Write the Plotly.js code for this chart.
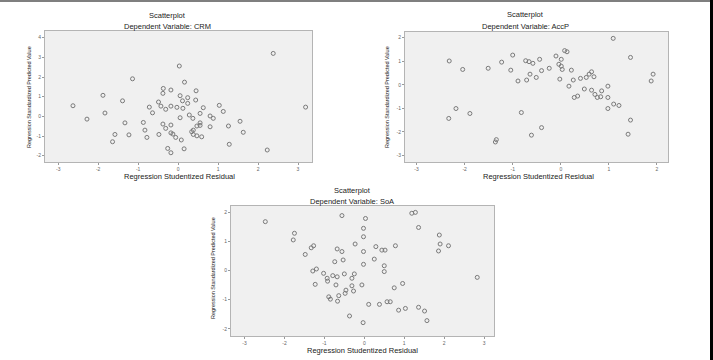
<!DOCTYPE html>
<html>
<head>
<meta charset="utf-8">
<script src="https://cdn.plot.ly/plotly-3.0.1.min.js"></script>
<style>
html,body{margin:0;padding:0;background:#fff;}
#chart{width:713px;height:360px;}
</style>
</head>
<body>
<div id="chart"></div>
<script>
// ---- Data ----
const crmResidual = [2.38,0.03,-1.14,0.16,-0.37,-0.18,0.45,-0.38,-1.88,0.05,0.24,0.44,-1.39,0.11,-0.49,0.24,-2.63,1.03,-0.72,-0.43,-0.18,-0.03,0.12,-0.31,0.63,1.13,-1.83,-0.64,3.19,0.55,0.28,0.80,0.88,0.37,0.05,-2.28,-0.87,-1.33,0.55,1.55,-0.38,-0.18,0.47,0.55,0.80,1.26,-0.31,-0.83,0.38,0.34,1.63,-1.58,-1.23,-0.48,-0.18,-0.13,0.38,0.47,0.59,-0.78,-0.06,0.08,-1.64,1.28,-0.26,0.15,2.23,-0.18];
const crmPredicted = [3.20,2.56,1.91,1.74,1.42,1.34,1.30,1.17,1.07,1.05,0.95,0.83,0.79,0.79,0.73,0.66,0.54,0.56,0.47,0.52,0.52,0.46,0.41,0.36,0.44,0.25,0.17,0.18,0.47,0.15,0.07,0.02,-0.10,-0.10,-0.07,-0.14,-0.31,-0.33,-0.33,-0.25,-0.39,-0.44,-0.49,-0.46,-0.53,-0.49,-0.61,-0.70,-0.70,-0.78,-0.81,-0.92,-0.94,-0.92,-0.84,-0.90,-0.92,-0.99,-1.04,-1.07,-1.07,-1.20,-1.29,-1.42,-1.63,-1.65,-1.71,-1.85];

const accResidual = [1.09,-2.32,-1.00,-1.23,-2.04,-1.51,-1.04,-0.73,-0.66,-0.58,-0.44,-0.10,0.08,0.13,0.01,-0.04,0.03,0.01,-0.24,-0.40,0.22,1.45,1.92,1.88,-0.64,-0.51,-0.89,-0.71,-0.02,0.26,0.41,0.53,0.64,0.59,0.69,0.17,0.49,0.64,0.85,0.98,0.71,0.76,0.83,0.98,0.28,0.35,1.10,1.21,0.98,-2.18,-2.33,-1.89,-0.82,1.45,-0.40,-0.61,1.40,-1.36,-1.34];
const accPredicted = [1.97,1.01,1.26,0.96,0.65,0.70,0.62,1.02,0.98,0.91,1.08,1.22,1.45,1.40,1.08,0.87,0.65,0.79,0.70,0.60,0.62,1.16,0.45,0.16,0.45,0.31,0.16,0.20,0.24,0.20,0.27,0.31,0.55,0.45,0.34,-0.06,-0.18,-0.23,-0.26,-0.06,-0.41,-0.54,-0.51,-0.54,-0.54,-0.48,-0.82,-0.88,-1.01,-1.01,-1.43,-1.22,-1.18,-1.50,-1.82,-2.14,-2.10,-2.43,-2.33];

const soaResidual = [-2.48,-0.56,0.03,1.19,1.28,-0.02,1.36,-1.75,-1.78,-0.02,1.88,1.90,2.11,1.86,-0.23,0.29,0.44,0.52,0.78,-1.27,-1.33,-0.68,-0.56,-1.48,-0.02,0.25,-0.53,-0.74,-0.02,0.50,0.50,-1.20,-1.29,-1.02,-0.79,-0.68,-0.50,-0.25,-0.31,-0.92,-0.93,-1.23,-0.71,-0.31,-0.06,0.96,0.75,-0.46,-0.27,-0.48,-0.89,-0.64,-0.67,-0.85,0.11,0.38,0.57,0.65,2.83,0.86,1.03,1.36,1.51,1.57,-0.37,-0.03];
const soaPredicted = [1.69,1.90,1.80,1.98,2.01,1.46,1.49,1.29,1.06,1.17,1.23,0.92,0.86,0.68,0.92,0.83,0.71,0.71,0.86,0.86,0.79,0.75,0.66,0.56,0.66,0.40,0.37,0.31,0.22,0.17,-0.03,0.06,-0.01,-0.09,-0.17,-0.21,-0.11,-0.11,-0.26,-0.36,-0.26,-0.47,-0.49,-0.52,-0.49,-0.44,-0.59,-0.67,-0.70,-0.78,-0.90,-0.86,-1.05,-0.98,-1.16,-1.16,-1.07,-1.07,-0.23,-1.36,-1.30,-1.26,-1.39,-1.72,-1.56,-1.79];

const crmXTicks = [-3,-2,-1,0,1,2,3];
const crmYTicks = [-2,-1,0,1,2,3,4];
const accXTicks = [-3,-2,-1,0,1,2];
const accYTicks = [-3,-2,-1,0,1,2];
const soaXTicks = [-3,-2,-1,0,1,2,3];
const soaYTicks = [-2,-1,0,1,2];

const chartTitle = "Scatterplot";
const depTitles = ["Dependent Variable: CRM","Dependent Variable: AccP","Dependent Variable: SoA"];
const xLabel = "Regression Studentized Residual";
const yLabel = "Regression Standardized Predicted Value";

// ---- Layout helpers (pixel -> paper) ----
const W = 713, H = 360;
const px = v => v / W;
const py = v => 1 - v / H;
const FONT = "Liberation Sans, Arial, sans-serif";

const markerStyle = {symbol:"circle-open", size:4, color:"#7a7a7a", line:{width:1,color:"#7a7a7a"}};

function trace(x, y, xa, ya){
  return {type:"scatter", mode:"markers", x:x, y:y, xaxis:xa, yaxis:ya,
          marker:markerStyle, hoverinfo:"none", showlegend:false, cliponaxis:false};
}

function axis(domain, range, ticks, anchor){
  return {domain:domain, range:range, anchor:anchor, tickvals:ticks, ticktext:ticks.map(String),
          showgrid:false, zeroline:false, showline:true, mirror:true, linecolor:"#b4b4b4", linewidth:1,
          ticks:"outside", ticklen:2, tickcolor:"#999", tickwidth:1, ticklabelstandoff:0,
          tickfont:{family:FONT, size:5, color:"#666"}, fixedrange:true};
}

const data = [
  trace(crmResidual, crmPredicted, "x", "y"),
  trace(accResidual, accPredicted, "x2", "y2"),
  trace(soaResidual, soaPredicted, "x3", "y3")
];

const ann = [];
function addTitles(cx, y1, y2, title2, xlx, xly, ylx, yly){
  ann.push({text:chartTitle, x:px(cx), y:py(y1), xref:"paper", yref:"paper", showarrow:false,
            font:{family:FONT, size:7.5, color:"#222"}, xanchor:"center", yanchor:"middle"});
  ann.push({text:title2, x:px(cx), y:py(y2), xref:"paper", yref:"paper", showarrow:false,
            font:{family:FONT, size:7.5, color:"#222"}, xanchor:"center", yanchor:"middle"});
  ann.push({text:xLabel, x:px(xlx), y:py(xly), xref:"paper", yref:"paper", showarrow:false,
            font:{family:FONT, size:7.5, color:"#222"}, xanchor:"center", yanchor:"middle"});
  ann.push({text:yLabel, x:px(ylx), y:py(yly), xref:"paper", yref:"paper", showarrow:false, textangle:-90,
            font:{family:FONT, size:5.5, color:"#222"}, xanchor:"center", yanchor:"middle"});
}
addTitles(167, 16, 27, depTitles[0], 179, 176, 29, 97);
addTitles(525, 15, 27, depTitles[1], 538, 176, 387, 97);
addTitles(352, 190, 201, depTitles[2], 363, 350, 213, 268);

const layout = {
  width:W, height:H,
  margin:{l:0,r:0,t:0,b:0},
  paper_bgcolor:"#ffffff",
  plot_bgcolor:"#f0f0f0",
  showlegend:false,
  xaxis: axis([px(45), px(312)], [-3.33, 3.35], crmXTicks, "y"),
  yaxis: axis([py(162), py(31)], [-2.32, 4.34], crmYTicks, "x"),
  xaxis2: axis([px(405), px(668)], [-3.24, 2.23], accXTicks, "y2"),
  yaxis2: axis([py(162), py(32)], [-3.28, 2.24], accYTicks, "x2"),
  xaxis3: axis([px(231), px(494)], [-3.34, 3.25], soaXTicks, "y3"),
  yaxis3: axis([py(336), py(206)], [-2.25, 2.23], soaYTicks, "x3"),
  annotations: ann,
  shapes:[
    {type:"line", xref:"paper", yref:"paper", x0:0, x1:1, y0:py(1), y1:py(1), line:{color:"#555", width:1.5}},
    {type:"line", xref:"paper", yref:"paper", x0:px(711.5), x1:px(711.5), y0:0, y1:1, line:{color:"#000", width:3}}
  ]
};

Plotly.newPlot("chart", data, layout, {staticPlot:true, displayModeBar:false});
</script>
</body>
</html>
